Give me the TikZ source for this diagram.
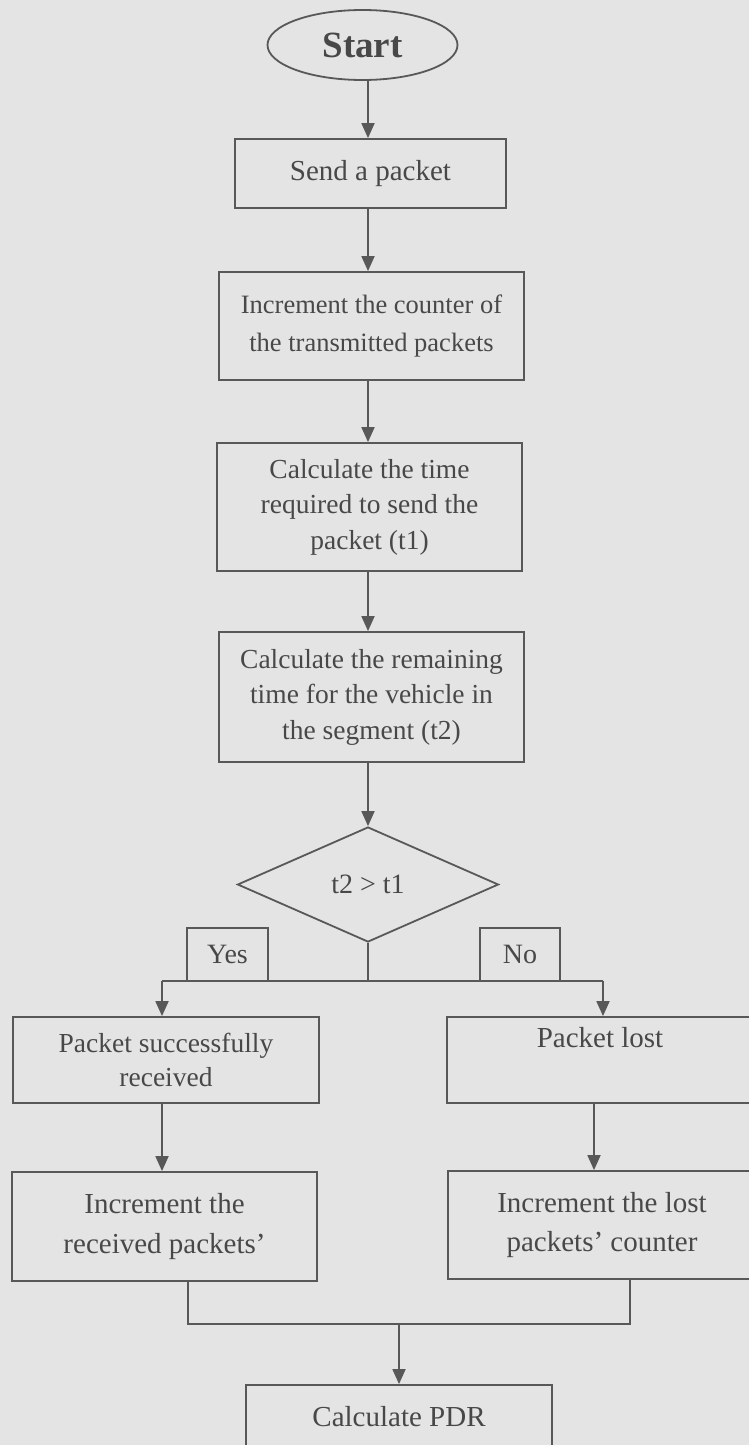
\documentclass[tikz,border=0pt]{standalone}
\usepackage{fontspec}
\setmainfont{Liberation Serif}
\usetikzlibrary{shapes.geometric,arrows.meta}
\definecolor{bgc}{RGB}{228,228,228}
\definecolor{lnc}{RGB}{88,88,88}
\definecolor{txc}{RGB}{72,72,72}
\begin{document}
\begin{tikzpicture}[x=1pt,y=-1pt,
  box/.style={draw=lnc,line width=1.8pt,fill=bgc,text=txc,align=center,inner sep=0pt,
    font=\fontsize{28}{35.5}\selectfont},
  arr/.style={draw=lnc,line width=1.8pt,-{Triangle[width=13pt,length=15pt]}},
  link/.style={draw=lnc,line width=1.8pt}]
\clip (0,0) rectangle (749,1445);
\fill[bgc] (0,0) rectangle (749,1445);
\useasboundingbox (0,0) rectangle (749,1445);

\node[box,ellipse,minimum width=190pt,minimum height=70pt,
  font=\bfseries\fontsize{37}{40}\selectfont] (start) at (362.5,45) {Start};
\node[box,minimum width=271pt,minimum height=69pt,font=\fontsize{29}{35}\selectfont] (send) at (370.5,173.5) {Send a packet};
\node[box,minimum width=305pt,minimum height=108pt,font=\fontsize{26.5}{38}\selectfont] (inc) at (371.5,326) {Increment the counter of\\the transmitted packets};
\node[box,minimum width=305pt,minimum height=128pt,font=\fontsize{27.5}{35.5}\selectfont] (calc1) at (369.5,507) {Calculate the time\\required to send the\\packet (t1)};
\node[box,minimum width=305pt,minimum height=130pt,font=\fontsize{27.5}{35.5}\selectfont] (calc2) at (371.5,697) {Calculate the remaining\\time for the vehicle in\\the segment (t2)};
\node[box,diamond,aspect=2.27,minimum width=261pt,minimum height=115pt] (dec) at (368,884.5) {t2 > t1};
\node[box,minimum width=81pt,minimum height=53pt] (yes) at (227.5,954.5) {Yes};
\node[box,minimum width=80pt,minimum height=53pt] (no) at (520,954.5) {No};
\node[box,minimum width=306pt,minimum height=86pt,font=\fontsize{27.5}{34}\selectfont] (succ) at (166,1060) {Packet successfully\\received};
\node[box,minimum width=306pt,minimum height=86pt,font=\fontsize{29}{34}\selectfont] (lost) at (600,1060) {Packet lost\\\strut};
\node[box,minimum width=305pt,minimum height=109pt,font=\fontsize{29}{40}\selectfont] (recv) at (164.5,1226.5) {Increment the\\received packets'};
\node[box,minimum width=308pt,minimum height=108pt,font=\fontsize{29}{39}\selectfont] (lcnt) at (602,1225) {Increment the lost\\packets' counter};
\node[box,minimum width=306pt,minimum height=64pt,font=\fontsize{29}{35}\selectfont] (pdr) at (399,1417) {Calculate PDR};

\coordinate (c) at (368,0);
\draw[arr] (start.south -| c) -- (send.north -| c);
\draw[arr] (send.south -| c) -- (inc.north -| c);
\draw[arr] (inc.south -| c) -- (calc1.north -| c);
\draw[arr] (calc1.south -| c) -- (calc2.north -| c);
\draw[arr] (calc2.south -| c) -- (dec.north -| c);

\coordinate (hl) at (162,981);
\coordinate (hr) at (603,981);
\draw[link] (dec.south -| c) -- (hl -| c);
\draw[link] (hl) -- (hr);
\draw[arr] (hl) -- (hl |- succ.north);
\draw[arr] (hr) -- (hr |- lost.north);

\coordinate (la) at (162,0);
\coordinate (ra) at (594,0);
\draw[arr] (succ.south -| la) -- (recv.north -| la);
\draw[arr] (lost.south -| ra) -- (lcnt.north -| ra);

\coordinate (ml) at (188,1324);
\coordinate (mr) at (630,1324);
\coordinate (mm) at (399,1324);
\draw[link] (recv.south -| ml) -- (ml) -- (mr) -- (lcnt.south -| mr);
\draw[arr] (mm) -- (pdr.north);
\end{tikzpicture}
\end{document}
